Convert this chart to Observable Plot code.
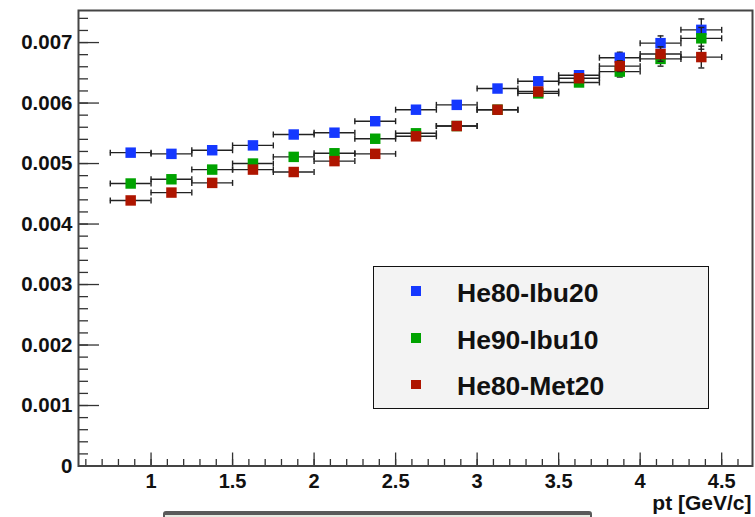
<!DOCTYPE html>
<html><head><meta charset="utf-8">
<script src="https://cdn.jsdelivr.net/npm/d3@7"></script>
<script src="https://cdn.jsdelivr.net/npm/@observablehq/plot@0.6"></script>
<style>
body{margin:0;background:#fff;font-family:"Liberation Sans",Arial,Helvetica,sans-serif;}
#wrap{position:relative;width:755px;height:517px;overflow:hidden;}
#wrap svg{position:absolute;left:0;top:0;}
#legend{position:absolute;left:373px;top:266px;width:336px;height:143px;box-sizing:border-box;background:#f3f3f3;border:1.5px solid #111;}
.row{position:absolute;left:0;width:100%;height:30px;}
.mk{position:absolute;left:37px;top:10px;width:9.5px;height:9.5px;}
.lt{position:absolute;left:83px;top:0;line-height:30px;font-size:26.5px;font-weight:bold;color:#111;white-space:nowrap;}
#bar{position:absolute;left:163px;top:511px;width:429px;height:8px;box-sizing:border-box;border:2px solid #5a5a5a;border-top-width:4px;border-radius:3px 3px 0 0;background:#e6ebe2;}
</style>
</head><body>
<div id="wrap"></div>
<script>
// ---- data ----
const ptCenters = [0.875,1.125,1.375,1.625,1.875,2.125,2.375,2.625,2.875,3.125,3.375,3.625,3.875,4.125,4.375];
const binHalfWidth = 0.125;
const seriesNames = ["He80-Ibu20","He90-Ibu10","He80-Met20"];
const seriesColors = ["#1538ff","#00a300","#ae1500"];
const he80Ibu20 = [0.00518,0.00516,0.00522,0.00530,0.00548,0.00551,0.00570,0.00589,0.00597,0.00624,0.00636,0.00646,0.00675,0.00699,0.00721];
const he90Ibu10 = [0.00467,0.00474,0.00490,0.00500,0.00511,0.00517,0.00541,0.00550,0.00562,0.00589,0.00616,0.00634,0.00652,0.00673,0.00707];
const he80Met20 = [0.00439,0.00452,0.00468,0.00490,0.00486,0.00504,0.00516,0.00545,0.00562,0.00589,0.00619,0.00641,0.00661,0.00681,0.00676];
const yErrors   = [0.00002,0.00002,0.00002,0.00002,0.00002,0.00002,0.00003,0.00003,0.00004,0.00004,0.00006,0.00006,0.00009,0.00012,0.00018];
const xTickLabels = [1,1.5,2,2.5,3,3.5,4,4.5];
const yTickLabels = [0,0.001,0.002,0.003,0.004,0.005,0.006,0.007];
const xLabel = "pt [GeV/c]";

const seriesValues = [he80Ibu20, he90Ibu10, he80Met20];
const xMinor = d3.range(6, 47).map(d => d / 10);
const yMinor = d3.range(0, 38).map(d => d * 0.0002);

const vCap = {draw(ctx, size){ const h = Math.sqrt(size/Math.PI); ctx.moveTo(0,-h); ctx.lineTo(0,h); }};
const hCap = {draw(ctx, size){ const h = Math.sqrt(size/Math.PI); ctx.moveTo(-h,0); ctx.lineTo(h,0); }};

const seriesMarks = [];
seriesValues.forEach((vals, si) => {
  const rows = ptCenters.map((x, i) => ({x, y: vals[i], e: yErrors[i], lo: x - binHalfWidth, hi: x + binHalfWidth}));
  seriesMarks.push(
    Plot.ruleY(rows, {x1: "lo", x2: "hi", y: "y", stroke: "#222", strokeWidth: 1.4}),
    Plot.dot(rows, {x: "lo", y: "y", symbol: vCap, r: 3, stroke: "#222", strokeWidth: 1.4, fill: "none"}),
    Plot.dot(rows, {x: "hi", y: "y", symbol: vCap, r: 3, stroke: "#222", strokeWidth: 1.4, fill: "none"}),
    Plot.ruleX(rows, {x: "x", y1: d => d.y - d.e, y2: d => d.y + d.e, stroke: "#222", strokeWidth: 1.4}),
    Plot.dot(rows, {x: "x", y: d => d.y - d.e, symbol: hCap, r: 3, stroke: "#222", strokeWidth: 1.4, fill: "none"}),
    Plot.dot(rows, {x: "x", y: d => d.y + d.e, symbol: hCap, r: 3, stroke: "#222", strokeWidth: 1.4, fill: "none"}),
    Plot.dot(rows, {x: "x", y: "y", symbol: "square", r: 5.9, fill: seriesColors[si], stroke: "none"})
  );
});

const plot = Plot.plot({
  width: 755, height: 517,
  marginLeft: 78, marginRight: 3, marginTop: 10, marginBottom: 51.5,
  x: {domain: [0.555, 4.689]},
  y: {domain: [0, 0.00753]},
  style: {fontFamily: '"Liberation Sans", Arial, Helvetica, sans-serif', background: "transparent", color: "#111"},
  marks: [
    ...seriesMarks,
    Plot.axisY(yMinor, {tickSize: -10, text: null, label: null, stroke: "#333", strokeWidth: 1.3}),
    Plot.axisY(yTickLabels, {tickSize: -21, text: null, label: null, stroke: "#333", strokeWidth: 1.3}),
    Plot.axisY(yTickLabels, {tickSize: 0, tickPadding: 6, label: null, fontSize: 20.5, fontWeight: "bold",
      tickFormat: d => d === 0 ? "0" : d.toFixed(3)}),
    Plot.axisX(xMinor, {tickSize: -6.5, text: null, label: null, stroke: "#333", strokeWidth: 1.3}),
    Plot.axisX(xTickLabels, {tickSize: -13, text: null, label: null, stroke: "#333", strokeWidth: 1.3}),
    Plot.axisX(xTickLabels, {tickSize: 0, tickPadding: 8, label: null, fontSize: 20, fontWeight: "bold", tickFormat: d => String(d)}),
    Plot.frame({stroke: "#444", strokeWidth: 2}),
    Plot.text([xLabel], {frameAnchor: "bottom-right", text: d => d, textAnchor: "end", lineAnchor: "middle",
      dy: 37.5, dx: -1, fontSize: 21, fontWeight: "bold", fill: "#111"})
  ]
});

const wrap = document.getElementById("wrap");
wrap.appendChild(plot);

const legend = document.createElement("div");
legend.id = "legend";
const rowTops = [10.5, 57.5, 104];
seriesNames.forEach((name, i) => {
  const row = document.createElement("div");
  row.className = "row";
  row.style.top = rowTops[i] + "px";
  const mk = document.createElement("div");
  mk.className = "mk";
  mk.style.background = seriesColors[i];
  mk.style.top = (i === 0 ? 8.5 : 8.5) + "px";
  const lt = document.createElement("div");
  lt.className = "lt";
  lt.textContent = name;
  row.appendChild(mk); row.appendChild(lt);
  legend.appendChild(row);
});
wrap.appendChild(legend);

const bar = document.createElement("div");
bar.id = "bar";
wrap.appendChild(bar);
</script>
</body></html>
